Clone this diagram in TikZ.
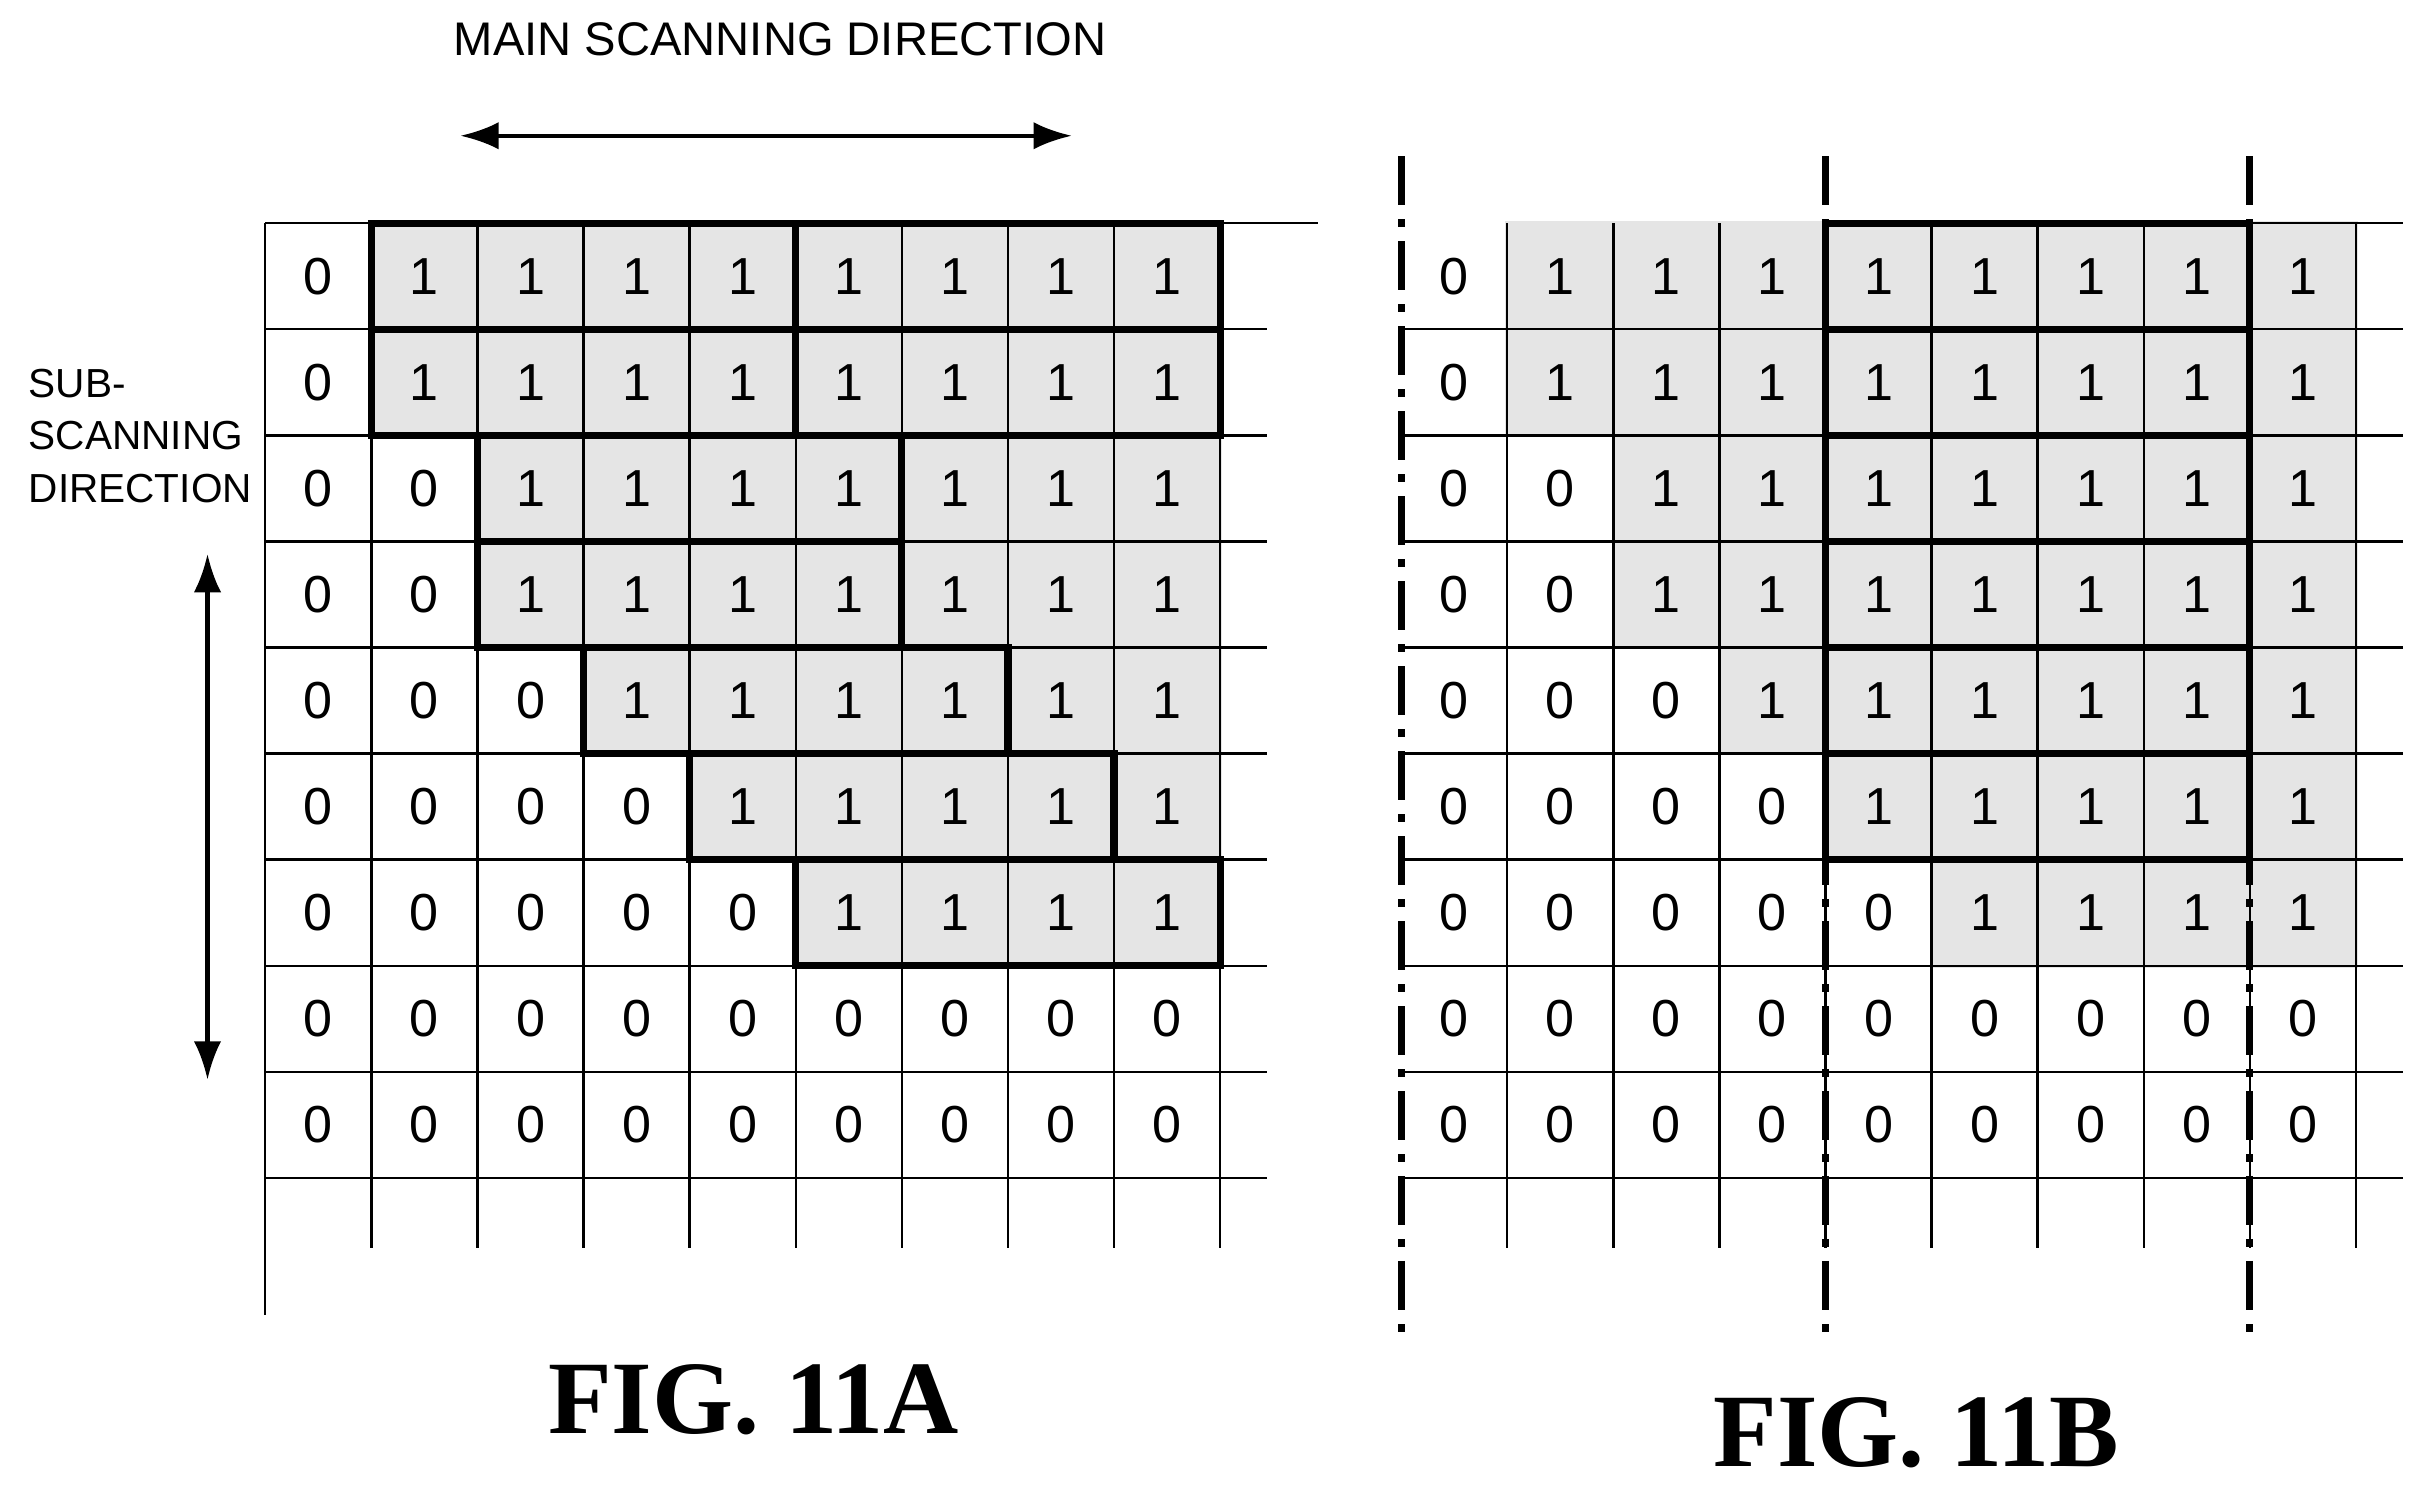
\documentclass[tikz,border=0pt]{standalone}
\usepackage{fontspec}
\setmainfont{Liberation Sans}
\newfontfamily\figfont{Liberation Serif}
\usetikzlibrary{arrows.meta}

\tikzset{grid/.style={draw,line width=0.45pt}}
\tikzset{frame/.style={draw,line width=1.3pt}}
\tikzset{arrow/.style={draw,line width=0.8pt,{Latex[length=7pt,width=5pt]}-{Latex[length=7pt,width=5pt]}}}
\tikzset{cut/.style={draw,line width=1.3pt,dash pattern=on 9pt off 2.5pt on 1.5pt off 2.5pt}}
\tikzset{val/.style={font=\fontsize{9.5}{10}\selectfont,inner sep=1pt}}
\tikzset{one/.style={val,fill=gray!20,minimum size=20pt}}
\tikzset{label/.style={font=\fontsize{8.6}{9.5}\selectfont}}
\tikzset{fig/.style={font=\figfont\bfseries\fontsize{19}{19}\selectfont}}

\begin{document}
\begin{tikzpicture}[x=0.1mm,y=-0.1mm]
    \useasboundingbox (0,0) rectangle (1560,954);

    % labels and arrows
    \node[label] (main) at (500,25) {MAIN SCANNING DIRECTION};
    \coordinate (mL) at (295,87);
    \coordinate (mR) at (687,87);
    \path[arrow] (mL) -- (mR);
    \node[label,font=\fontsize{7.4}{9.6}\selectfont,align=left,anchor=north west] (sub) at (6,224) {SUB-\\SCANNING\\DIRECTION};
    \coordinate (sT) at (133,355);
    \coordinate (sB) at (133,692);
    \path[arrow] (sT) -- (sB);

    % both grids: shading and digits
    \foreach \g/\xo in {a/170,b/898} {
      \foreach \r/\s in {0/1,1/1,2/2,3/2,4/3,5/4,6/5,7/9,8/9} {
        \foreach \c in {0,...,8} {
          \ifnum\c<\s
            \node[val] (\g-\r-\c) at ({\xo+68*\c+34},{143+68*\r+34}) {0};
          \else
            \fill[gray!45] ({\xo+68*\c},{143+68*\r}) rectangle ++(68,68);
            \node[one] (\g-\r-\c) at ({\xo+68*\c+34},{143+68*\r+34}) {1};
          \fi
        }
      }
      \foreach \r in {1,...,9}
        \path[grid] (\xo,{143+68*\r}) -- ++(642,0);
      \foreach \c in {1,...,9}
        \path[grid] ({\xo+68*\c},143) -- ({\xo+68*\c},800);
    }

    % FIG. 11A
    \path[grid] (170,143) -- (845,143);
    \path[grid] (170,143) -- (170,843);
    \path[frame] (238,143) rectangle (510,211);
    \path[frame] (510,143) rectangle (782,211);
    \path[frame] (238,211) rectangle (510,279);
    \path[frame] (510,211) rectangle (782,279);
    \path[frame] (306,279) rectangle (578,347);
    \path[frame] (306,347) rectangle (578,415);
    \path[frame] (374,415) rectangle (646,483);
    \path[frame] (442,483) rectangle (714,551);
    \path[frame] (510,551) rectangle (782,619);
    \node[fig] (figa) at (483,897) {FIG. 11A};

    % FIG. 11B
    \path[grid] (1170,143) -- (1540,143);
    \foreach \x in {898,1170,1442}
      \path[cut] (\x,100) -- (\x,860);
    \foreach \r in {0,...,5}
      \path[frame] (1170,{143+68*\r}) rectangle (1442,{211+68*\r});
    \node[fig] (figb) at (1228,918) {FIG. 11B};
\end{tikzpicture}
\end{document}
